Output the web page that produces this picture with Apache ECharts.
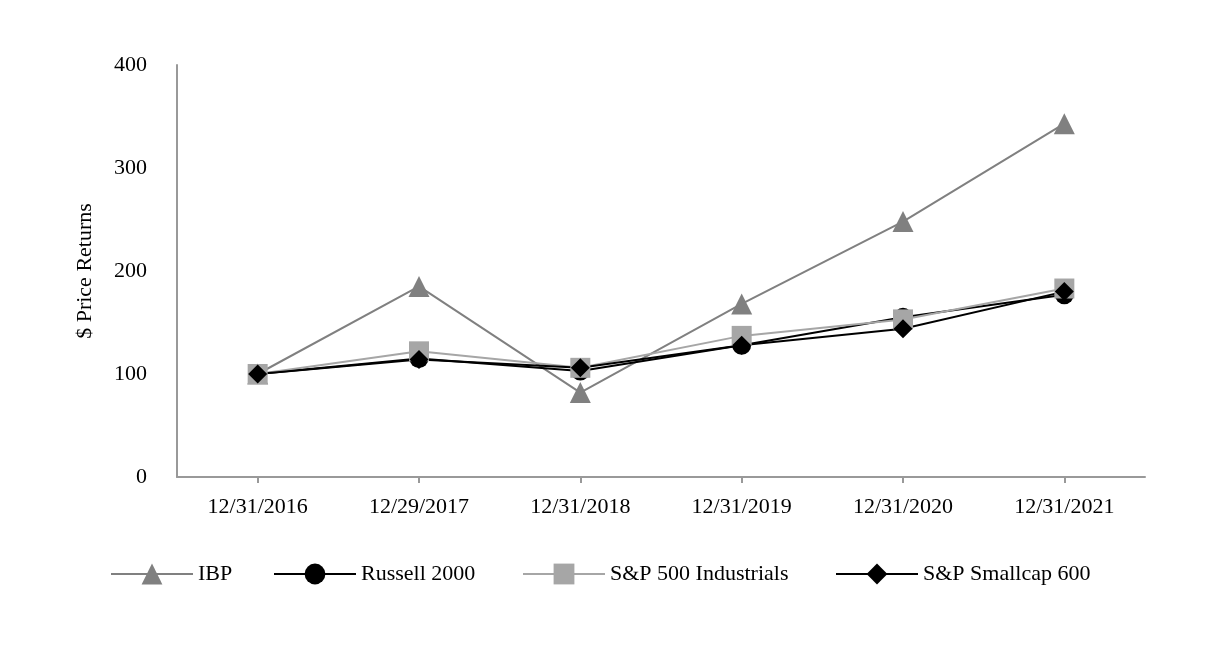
<!DOCTYPE html>
<html>
<head>
<meta charset="utf-8">
<script src="https://cdn.jsdelivr.net/npm/echarts@6/dist/echarts.min.js"></script>
<style>
html,body{margin:0;padding:0;background:#fff;}
#chart{width:1210px;height:658px;}
</style>
</head>
<body>
<div id="chart"></div>
<script>
const categories = ['12/31/2016','12/29/2017','12/31/2018','12/31/2019','12/31/2020','12/31/2021'];
const ibp = [100, 185, 82, 168, 248, 343];
const russell2000 = [100, 115, 103, 128, 155, 177];
const sp500Industrials = [100, 122, 106, 137, 153, 183];
const spSmallcap600 = [100, 114, 106, 128, 144, 180];
const yTicks = [0, 100, 200, 300, 400];
const seriesNames = ['IBP','Russell 2000','S&P 500 Industrials','S&P Smallcap 600'];

const FONT = '"Liberation Serif", "Times New Roman", serif';
const FS = 22;
const legendLefts = [105, 268, 517, 830];
const chart = echarts.init(document.getElementById('chart'));

function mk(name, data, color, symbol, size) {
  return {
    name: name, type: 'line', data: data,
    symbol: symbol, symbolSize: size,
    lineStyle: {color: color, width: 2},
    itemStyle: {color: color},
    emphasis: {disabled: true},
    animation: false
  };
}

chart.setOption({
  backgroundColor: '#fff',
  animation: false,
  textStyle: {fontFamily: FONT},
  grid: {left: 177, right: 65, top: 65, bottom: 181},
  legend: seriesNames.map((n, i) => ({
    left: legendLefts[i], top: 558,
    itemWidth: 82, itemHeight: 26, itemGap: 0,
    selectedMode: false,
    textStyle: {fontFamily: FONT, fontSize: FS, color: '#000'},
    data: [n]
  })),
  xAxis: {
    type: 'category', data: categories, boundaryGap: true,
    axisLine: {lineStyle: {color: '#999', width: 2}},
    axisTick: {show: true, alignWithLabel: true, length: 6, lineStyle: {color: '#999', width: 2}},
    axisLabel: {fontFamily: FONT, fontSize: FS, color: '#000', margin: 19}
  },
  yAxis: {
    type: 'value', min: yTicks[0], max: yTicks[yTicks.length-1], interval: 100,
    name: '$ Price Returns', nameLocation: 'middle', nameGap: 81,
    nameTextStyle: {fontFamily: FONT, fontSize: FS, color: '#000'},
    axisLine: {show: true, lineStyle: {color: '#999', width: 2}},
    axisTick: {show: false},
    splitLine: {show: false},
    axisLabel: {fontFamily: FONT, fontSize: FS, color: '#000', margin: 30}
  },
  series: [
    mk(seriesNames[0], ibp, '#808080', 'triangle', 21),
    mk(seriesNames[1], russell2000, '#000000', 'circle', 19),
    mk(seriesNames[2], sp500Industrials, '#a6a6a6', 'rect', 20),
    mk(seriesNames[3], spSmallcap600, '#000000', 'diamond', 19)
  ]
});
</script>
</body>
</html>
